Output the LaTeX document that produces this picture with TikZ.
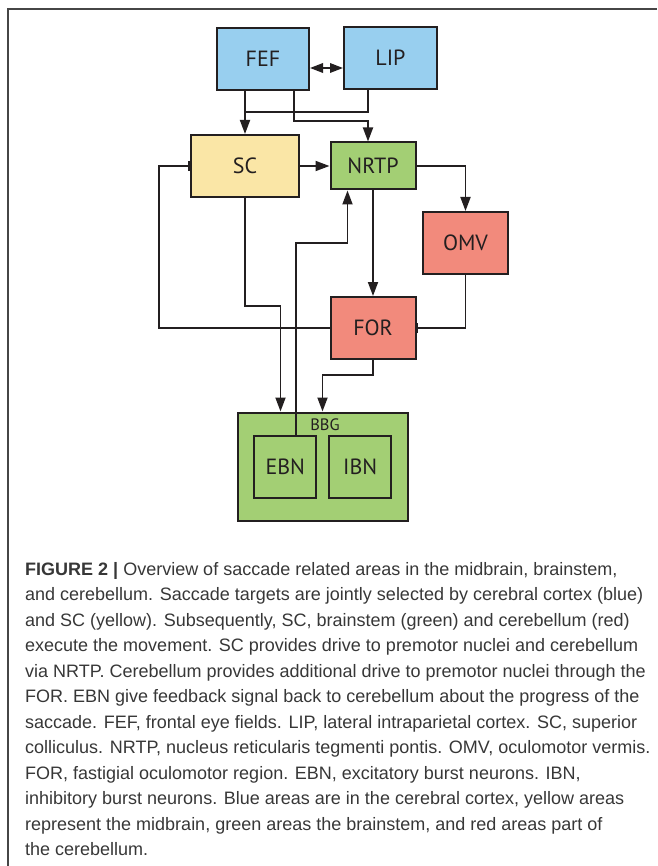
\documentclass[tikz,border=0pt]{standalone}
\usepackage{fontspec}
\setmainfont{Liberation Sans}
\newfontfamily\areafont{PT Sans}
\usetikzlibrary{arrows.meta}

\definecolor{cortex}{RGB}{152,207,239}
\definecolor{midbrain}{RGB}{250,230,166}
\definecolor{brainstem}{RGB}{163,207,116}
\definecolor{cerebellum}{RGB}{242,138,124}
\definecolor{ink}{RGB}{35,31,32}
\definecolor{captext}{RGB}{55,55,55}
\definecolor{framegray}{RGB}{70,70,70}

\begin{document}
\begin{tikzpicture}[x=1pt, y=-1pt,
        area/.style={draw=ink, line width=2pt, minimum width=85pt, minimum height=62pt,
            inner sep=0pt, text=ink, font=\areafont\fontsize{22}{22}\selectfont},
        wire/.style={draw=ink, line width=1.8pt},
        go/.style={wire, -{Triangle[length=14pt, width=10pt]}},
        inhib/.style={wire, -{Bar[width=10pt, line width=1.8pt]}}]
    \useasboundingbox (0,0) rectangle (657,866);
    \draw[framegray, line width=1.8pt] (8,866) -- (8,9) -- (657,9);

    % areas
    \node[area, fill=cortex, minimum width=92pt] (fef) at (263,59) {FEF};
    \node[area, fill=cortex, minimum width=93pt] (lip) at (390.5,58) {LIP};
    \node[area, fill=midbrain, minimum width=108pt] (sc) at (245,166) {SC};
    \node[area, fill=brainstem, minimum height=47pt] (nrtp) at (373,166) {NRTP};
    \node[area, fill=cerebellum] (omv) at (465.5,243) {OMV};
    \node[area, fill=cerebellum] (for) at (373,328) {FOR};
    \node[area, fill=brainstem, minimum width=170pt, minimum height=108pt] (bbg) at (322.5,466.5) {};
    \node[text=ink, font=\areafont\fontsize{16.5}{16.5}\selectfont] (bbglabel) at (325,425) {BBG};
    \node[area, fill=brainstem, minimum width=62pt] (ebn) at (285.3,466.5) {EBN};
    \node[area, fill=brainstem, minimum width=62pt] (ibn) at (360.2,466.5) {IBN};

    \coordinate (join) at (245,112);
    \coordinate (back) at (159,328);
    \coordinate (turn) at (296,243);

    % connections
    \draw[wire, {Triangle[length=13pt, width=9.5pt]}-{Triangle[length=13pt, width=9.5pt]}]
        ([yshift=-9pt]fef.east) -- ([yshift=-9pt]fef.east -| lip.west);
    \draw[go] (fef.south -| sc.north) -- (sc.north);
    \draw[wire] ([xshift=-22.5pt]lip.south) |- (join);
    \draw[go] ([xshift=31pt]fef.south) -- ++(0,30) -| ([xshift=-5pt]nrtp.north);
    \draw[go] (sc.east) -- (nrtp.west);
    \draw[go] (nrtp.east) -| (omv.north);
    \draw[go] (nrtp.south) -- (for.north);
    \draw[inhib] (omv.south) |- (for.east);
    \draw[inhib] (for.west) -- (back) |- (sc.west);
    \draw[go] (sc.south) -- ++(0,108) -| ([xshift=-42pt]bbg.north);
    \draw[go] (for.south) -- ++(0,15.3) -| (bbg.north);
    \draw[go] ([xshift=10.7pt]ebn.north) -- (turn) -| ([xshift=-25.5pt]nrtp.south);

    % caption
    \node[anchor=north west, align=left, inner sep=0pt, text=captext,
        font=\fontsize{18}{25.5}\selectfont] (caption) at (25,562) {%
        \textbf{FIGURE 2 |} Overview of saccade related areas in the midbrain, brainstem,\\
        and cerebellum. Saccade targets are jointly selected by cerebral cortex (blue)\\
        and SC (yellow). Subsequently, SC, brainstem (green) and cerebellum (red)\\
        execute the movement. SC provides drive to premotor nuclei and cerebellum\\
        via NRTP. Cerebellum provides additional drive to premotor nuclei through the\\
        FOR. EBN give feedback signal back to cerebellum about the progress of the\\
        saccade. FEF, frontal eye fields. LIP, lateral intraparietal cortex. SC, superior\\
        colliculus. NRTP, nucleus reticularis tegmenti pontis. OMV, oculomotor vermis.\\
        FOR, fastigial oculomotor region. EBN, excitatory burst neurons. IBN,\\
        inhibitory burst neurons. Blue areas are in the cerebral cortex, yellow areas\\
        represent the midbrain, green areas the brainstem, and red areas part of\\
        the cerebellum.};
\end{tikzpicture}
\end{document}
